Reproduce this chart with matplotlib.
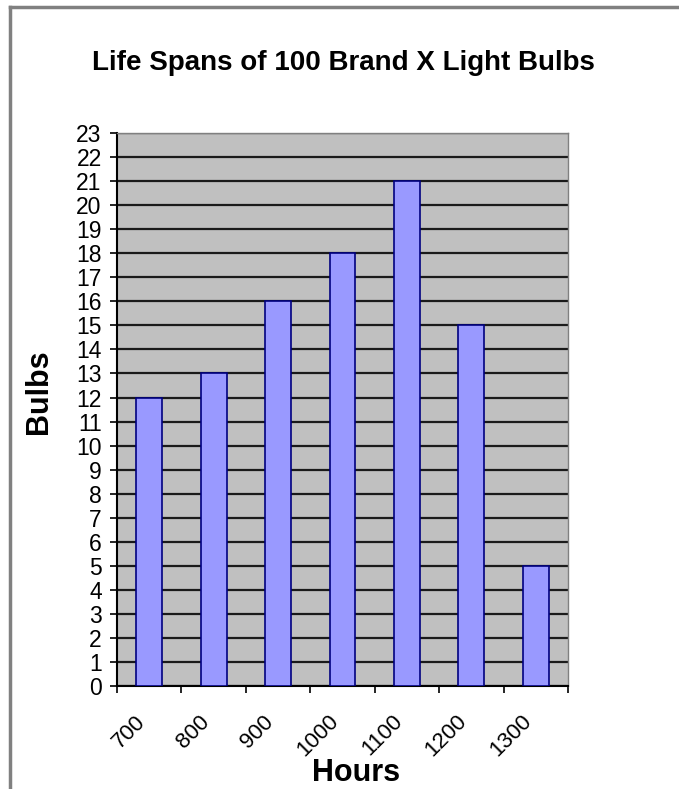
import matplotlib.pyplot as plt
from matplotlib.lines import Line2D
import numpy as np

hours = ["700", "800", "900", "1000", "1100", "1200", "1300"]
bulbs = [12, 13, 16, 18, 21, 15, 5]
y_ticks = list(range(0, 24))

plt.rcParams["font.family"] = ["Liberation Sans", "DejaVu Sans"]

fig = plt.figure(figsize=(6.79, 7.89), dpi=100)
ax = fig.add_axes([0.1723, 0.1305, 0.6642, 0.7009])

x = np.arange(len(hours))
ax.set_facecolor("#C0C0C0")
ax.bar(x, bulbs, width=0.4, color="#9999FF", edgecolor="#000080", linewidth=1.2, zorder=3)

ax.set_ylim(0, 23)
ax.set_yticks(y_ticks)
ax.set_yticklabels([str(v) for v in y_ticks], fontsize=16.5)
ax.yaxis.grid(True, color="#1a1a1a", linewidth=1.6, zorder=1)
ax.set_axisbelow(True)

ax.set_xlim(-0.5, len(hours) - 0.5)
ax.set_xticks(x)
ax.set_xticklabels(hours, rotation=45, ha="right", va="top", fontsize=16)
ax.set_xticks(np.arange(len(hours) + 1) - 0.5, minor=True)
ax.tick_params(axis="x", which="major", length=0, pad=18)
ax.tick_params(axis="x", which="minor", length=5, width=1.2, direction="out")
ax.tick_params(axis="y", length=5, width=1.2, direction="out", pad=6)

for side in ["left", "bottom"]:
    ax.spines[side].set_color("black")
    ax.spines[side].set_linewidth(1.5)
for side in ["top", "right"]:
    ax.spines[side].set_color("#808080")
    ax.spines[side].set_linewidth(1.0)

fig.text(0.506, 0.920, "Life Spans of 100 Brand X Light Bulbs", ha="center", va="center",
         fontsize=20, fontweight="bold")
fig.text(0.057, 0.503, "Bulbs", ha="center", va="center", rotation=90,
         fontsize=22, fontweight="bold")
fig.text(0.525, 0.020, "Hours", ha="center", va="center", fontsize=22, fontweight="bold")

# gray frame around the chart area
fig.add_artist(Line2D([0.015, 0.015], [0.0, 0.9905], transform=fig.transFigure,
                      color="#808080", linewidth=2.5))
fig.add_artist(Line2D([0.015, 1.0], [0.9905, 0.9905], transform=fig.transFigure,
                      color="#808080", linewidth=2.5))

fig.savefig("out.png", dpi=100)
